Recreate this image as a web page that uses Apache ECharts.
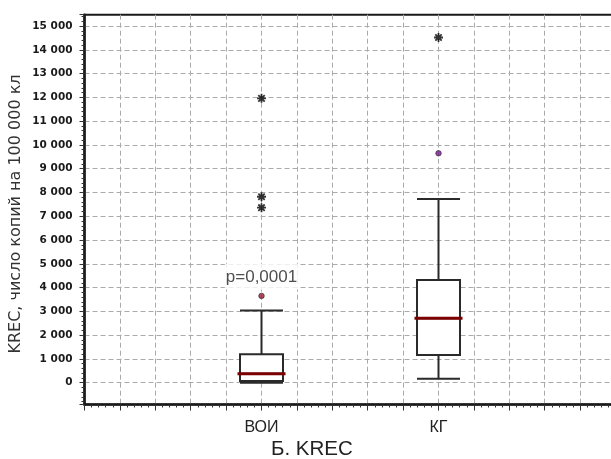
<!DOCTYPE html>
<html><head><meta charset="utf-8">
<script src="https://cdn.jsdelivr.net/npm/echarts@6/dist/echarts.min.js"></script>
<style>html,body{margin:0;padding:0;background:#fff}#c{width:611px;height:459px}</style>
</head><body><div id="c"></div>
<script>
// ---- data ----
const categories = ['ВОИ', 'КГ'];
const categorySlots = [5, 10];              // slot of each group on the 0..15 x scale
const boxStats = [                          // [min, Q1, median, Q3, max]
  [0, 70, 375, 1195, 3030],
  [160, 1165, 2710, 4320, 7725]
];
const starOutliers = [[0, 11960], [0, 7820], [0, 7360], [1, 14520]];  // [group, value]
const dotOutliers = [[0, 3650], [1, 9650]];
const dotColors = ['#9b1b30', '#7a1591'];
const pValueLabel = 'p=0,0001';
const pValueAt = [0, 4450];
const yTitle = 'KREC, число копий на 100 000 кл';
const chartTitle = 'Б. KREC';
const yMin = -920, yMax = 15480;
const xMin = 0, xMax = 15;

// ---- chart ----
const chart = echarts.init(document.getElementById('c'), null, {renderer: 'canvas'});
const starPath = 'path://M8 0h4v20h-4z M0 8h20v4h-20z M1.5 4.3l2.8-2.8l14.2 14.2l-2.8 2.8z M15.7 1.5l2.8 2.8l-14.2 14.2l-2.8-2.8z';
const dash = [5, 3];
function fmtThousands(v) {
  return String(v).replace(/\B(?=(\d{3})+(?!\d))/g, ' ');
}

chart.setOption({
  animation: false,
  backgroundColor: '#fff',
  grid: {left: 84.5, top: 14.7, right: -4.5, bottom: 54.5, show: true,
         borderColor: '#1a1a1a', borderWidth: 2, backgroundColor: 'transparent',
         outerBoundsMode: 'none', containLabel: false},
  title: {text: chartTitle, left: 271, top: 439, padding: 0,
          textStyle: {fontFamily: 'Liberation Sans', fontSize: 20.5, fontWeight: 'normal', color: '#222'}},
  graphic: [{
    type: 'text', x: 16, y: 214, rotation: Math.PI / 2,
    style: {text: yTitle, align: 'center', verticalAlign: 'middle',
            font: '16px "DejaVu Sans"', fill: '#333'}
  }],
  xAxis: {
    type: 'value', min: xMin, max: xMax, interval: 1,
    axisLine: {show: true, onZero: false, lineStyle: {color: '#1a1a1a', width: 2.5}},
    axisTick: {show: true, length: 6, lineStyle: {color: '#333', width: 1}},
    minorTick: {show: true, splitNumber: 5, length: 3, lineStyle: {color: '#333', width: 1}},
    splitLine: {show: true, lineStyle: {color: '#aaa', type: dash, width: 1}},
    axisLabel: {
      margin: 15, fontFamily: 'Liberation Sans', fontSize: 16, color: '#222',
      formatter: function (v) { const i = categorySlots.indexOf(v); return i >= 0 ? categories[i] : ''; }
    }
  },
  yAxis: {
    type: 'value', min: yMin, max: yMax, splitNumber: 16,
    axisLine: {show: true, onZero: false, lineStyle: {color: '#1a1a1a', width: 2.5}},
    axisTick: {show: true, length: 5, lineStyle: {color: '#333', width: 1}},
    minorTick: {show: true, splitNumber: 5, length: 3, lineStyle: {color: '#333', width: 1}},
    splitLine: {show: true, showMinLine: false, showMaxLine: false,
                lineStyle: {color: '#aaa', type: dash, width: 1}},
    axisLabel: {
      margin: 12, fontFamily: 'DejaVu Sans', fontWeight: 'bold', fontSize: 10.5, color: '#1a1a1a',
      formatter: function (v) { return (v % 1000 === 0) ? fmtThousands(v) : ''; }
    }
  },
  series: [
    {
      type: 'boxplot', layout: 'horizontal',
      boxWidth: [43, 43],
      itemStyle: {color: '#fff', borderColor: '#2a2a2a', borderWidth: 2},
      data: boxStats.map((s, i) => [categorySlots[i]].concat(s)),
      z: 3
    },
    {
      type: 'custom',
      data: boxStats.map((s, i) => [categorySlots[i], s[2]]),
      renderItem: function (params, api) {
        const p = api.coord([api.value(0), api.value(1)]);
        return {type: 'line', shape: {x1: p[0] - 24, y1: p[1], x2: p[0] + 24, y2: p[1]},
                style: {stroke: '#7d0000', lineWidth: 3}};
      },
      z: 4
    },
    {
      type: 'scatter', symbol: starPath, symbolSize: 9,
      itemStyle: {color: '#000'},
      data: starOutliers.map(d => [categorySlots[d[0]], d[1]]),
      z: 5
    },
    {
      type: 'scatter', symbol: 'circle', symbolSize: 5.5,
      data: dotOutliers.map(d => ({value: [categorySlots[d[0]], d[1]],
        itemStyle: {color: dotColors[d[0]], borderColor: '#222', borderWidth: 0.8}})),
      z: 5
    },
    {
      type: 'scatter', symbolSize: 0,
      data: [[categorySlots[pValueAt[0]], pValueAt[1]]],
      label: {show: true, position: 'inside', formatter: pValueLabel,
              fontFamily: 'Liberation Sans', fontSize: 17, color: '#222',
              backgroundColor: '#fff', padding: [5, 1, 4, 1]},
      z: 6
    }
  ]
});
</script>
</body></html>
